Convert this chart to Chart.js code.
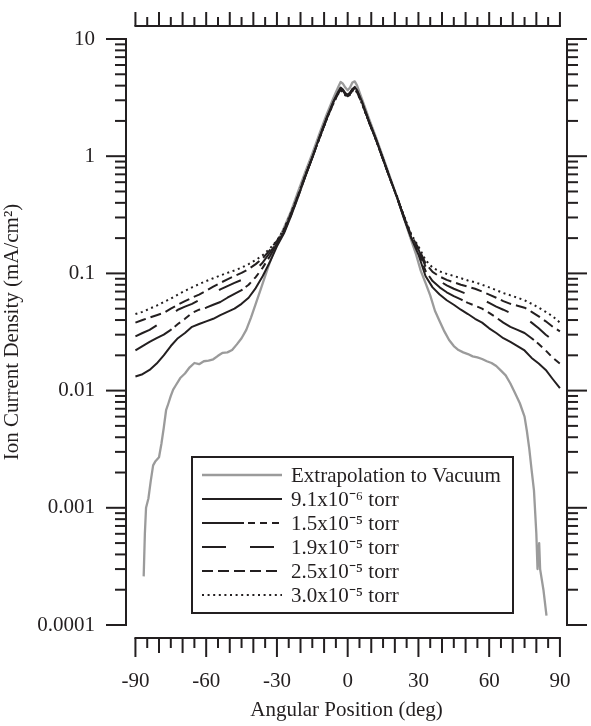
<!DOCTYPE html>
<html><head><meta charset="utf-8">
<script src="https://cdn.jsdelivr.net/npm/chart.js@4.4.1/dist/chart.umd.min.js"></script>
<style>html,body{margin:0;padding:0;background:#fff}canvas{display:block}</style>
</head><body>
<canvas id="c" width="591" height="726"></canvas>
<script>
// ---- data ----
const xTickLabels = [-90, -60, -30, 0, 30, 60, 90];
const yTickLabels = [0.0001, 0.001, 0.01, 0.1, 1, 10];
const seriesLabels = ['Extrapolation to Vacuum', '9.1x10\u207B\u2076 torr', '1.5x10\u207B\u2075 torr', '1.9x10\u207B\u2075 torr', '2.5x10\u207B\u2075 torr', '3.0x10\u207B\u2075 torr'];

const pressureAngles = [-90,-87,-84,-81,-78,-75,-72,-69,-66,-63,-60,-57,-54,-51,-48,-45,-42,-39,-36,-33,-30,
  -27,-24,-21,-18,-15,-12,-9,-6,-4,-3,-2,-1,0,1,2,3,4,6,9,12,15,18,21,24,27,
  30,33,36,39,42,45,48,51,54,57,60,63,66,69,72,75,78,81,84,87,90];

const p91 = [0.0132,0.0138,0.015,0.017,0.02,0.024,0.028,0.031,0.035,0.037,0.039,0.041,0.044,0.047,0.05,0.055,0.062,0.075,0.095,0.125,0.17,
  0.22,0.31,0.45,0.67,0.98,1.45,2.1,2.95,3.55,3.85,3.7,3.45,3.35,3.5,3.75,3.9,3.65,2.95,2.0,1.4,0.95,0.64,0.44,0.29,0.2,
  0.145,0.095,0.076,0.066,0.059,0.054,0.049,0.045,0.041,0.038,0.034,0.031,0.028,0.026,0.024,0.022,0.019,0.017,0.015,0.0125,0.0105];
const p15 = [0.022,0.024,0.026,0.028,0.030,0.033,0.037,0.041,0.046,0.049,0.051,0.054,0.057,0.062,0.067,0.072,0.08,0.093,0.112,0.14,0.18,
  0.225,0.315,0.455,0.67,0.97,1.43,2.08,2.9,3.5,3.8,3.65,3.4,3.3,3.45,3.7,3.85,3.6,2.9,1.98,1.39,0.94,0.64,0.44,0.295,0.2,
  0.155,0.105,0.086,0.076,0.069,0.064,0.06,0.056,0.053,0.05,0.046,0.042,0.038,0.035,0.033,0.031,0.028,0.025,0.022,0.019,0.017];
const p19 = [0.029,0.031,0.033,0.036,0.04,0.044,0.049,0.052,0.055,0.059,0.062,0.067,0.073,0.078,0.083,0.088,0.095,0.107,0.124,0.15,0.185,
  0.23,0.32,0.46,0.68,0.97,1.42,2.06,2.88,3.45,3.75,3.6,3.38,3.28,3.42,3.65,3.8,3.55,2.88,1.97,1.38,0.94,0.64,0.44,0.3,0.205,
  0.16,0.115,0.096,0.086,0.079,0.074,0.07,0.066,0.063,0.06,0.056,0.052,0.049,0.046,0.044,0.042,0.038,0.034,0.03,0.027,0.024];
const p25 = [0.038,0.04,0.042,0.044,0.046,0.05,0.054,0.058,0.062,0.066,0.071,0.077,0.083,0.089,0.095,0.101,0.109,0.12,0.135,0.158,0.19,
  0.235,0.325,0.465,0.68,0.97,1.42,2.05,2.85,3.42,3.7,3.55,3.35,3.25,3.4,3.62,3.75,3.5,2.85,1.96,1.38,0.94,0.64,0.445,0.3,0.21,
  0.165,0.122,0.103,0.094,0.088,0.084,0.08,0.077,0.074,0.07,0.066,0.062,0.058,0.055,0.053,0.051,0.047,0.043,0.039,0.035,0.032];
const p30 = [0.045,0.047,0.05,0.053,0.057,0.061,0.066,0.071,0.076,0.081,0.086,0.091,0.096,0.101,0.106,0.112,0.12,0.13,0.143,0.163,0.19,
  0.24,0.33,0.47,0.69,0.97,1.41,2.04,2.82,3.4,3.65,3.5,3.3,3.2,3.35,3.6,3.72,3.48,2.82,1.95,1.37,0.94,0.645,0.45,0.305,0.215,
  0.17,0.13,0.112,0.104,0.099,0.095,0.091,0.087,0.084,0.08,0.076,0.072,0.068,0.065,0.062,0.059,0.055,0.051,0.047,0.043,0.038];

const vacAngles = [-86.5,-86,-85.5,-84.5,-83.5,-82.5,-81.5,-80,-79,-78,
  -77,-76,-75,-74,-73,-71,-69,-67,-65,-63,
  -61,-59,-57,-55,-53,-51,-49,-47,-45,-43,
  -41,-39,-37,-35,-33,-31,-29,-27,-24,-21,
  -18,-15,-12,-9,-6,-4,-3,-2,-1,0,
  1,2,3,4,6,9,12,15,18,21,
  24,27,29,31,33,35,37,39,41,43,
  45,47,49,51,53,55,57,59,61,63,
  65,67,69,71,73,75,76,77,78,79,
  80,80.5,81.2,81.6,83,84.3];
const vacValues = [0.00026,0.0006,0.001,0.0012,0.0017,0.0023,0.0025,0.0027,0.0035,0.0048,
  0.0068,0.0078,0.009,0.0102,0.011,0.0128,0.014,0.0158,0.0172,0.0168,
  0.0178,0.018,0.0185,0.0198,0.021,0.0212,0.0222,0.0248,0.028,0.033,
  0.042,0.055,0.072,0.095,0.125,0.16,0.2,0.245,0.34,0.5,
  0.73,1.05,1.55,2.25,3.15,3.9,4.3,4.15,3.85,3.65,
  3.85,4.25,4.35,4.0,3.1,2.1,1.45,0.98,0.66,0.44,
  0.29,0.19,0.145,0.105,0.083,0.065,0.048,0.039,0.032,0.027,
  0.024,0.0222,0.0212,0.0205,0.0196,0.0192,0.0186,0.0178,0.0172,0.0162,
  0.0148,0.0135,0.0115,0.0095,0.0078,0.006,0.0045,0.0032,0.0021,0.0014,
  0.0006,0.0003,0.0005,0.0003,0.0002,0.00012];

// ---- styling ----
const INK = '#231f20';
const GREY = '#9b9b9b';
const FONT = 'Liberation Serif, Times New Roman, serif';
const FS = 21;

const pts = (xs, ys) => xs.map((x, i) => ({x: x, y: ys[i]}));
const lineBase = {pointRadius: 0, tension: 0, borderWidth: 2, fill: false, borderCapStyle: 'butt', borderJoinStyle: 'round'};

const datasets = [
  Object.assign({}, lineBase, {label: seriesLabels[0], data: pts(vacAngles, vacValues), borderColor: GREY, borderWidth: 2.3, borderDash: [], order: 10}),
  Object.assign({}, lineBase, {label: seriesLabels[1], data: pts(pressureAngles, p91), borderColor: INK, borderDash: [], order: 1}),
  Object.assign({}, lineBase, {label: seriesLabels[2], data: pts(pressureAngles, p15), borderColor: INK, borderDash: [42, 4, 7, 5, 7, 5, 7, 5], order: 1}),
  Object.assign({}, lineBase, {label: seriesLabels[3], data: pts(pressureAngles, p19), borderColor: INK, borderDash: [24, 24], order: 1}),
  Object.assign({}, lineBase, {label: seriesLabels[4], data: pts(pressureAngles, p25), borderColor: INK, borderDash: [11, 5], order: 1}),
  Object.assign({}, lineBase, {label: seriesLabels[5], data: pts(pressureAngles, p30), borderColor: INK, borderDash: [2, 3.6], order: 1})
];

function seg(ctx, x1, y1, x2, y2) { ctx.beginPath(); ctx.moveTo(x1, y1); ctx.lineTo(x2, y2); ctx.stroke(); }

const igorAxes = {
  id: 'igorAxes',
  afterDraw(chart) {
    const ctx = chart.ctx, xs = chart.scales.x, ys = chart.scales.y, ca = chart.chartArea;
    ctx.save();
    ctx.strokeStyle = INK; ctx.lineWidth = 2; ctx.lineCap = 'butt';
    const yTop = ys.getPixelForValue(yTickLabels[yTickLabels.length - 1]);
    const yBot = ys.getPixelForValue(yTickLabels[0]);
    seg(ctx, ca.left, yTop - 1, ca.left, yBot + 1);
    seg(ctx, ca.right, yTop - 1, ca.right, yBot + 1);
    for (let d = 0; d < yTickLabels.length; d++) {
      for (let m = 1; m <= 9; m++) {
        const v = yTickLabels[d] * m;
        if (v > yTickLabels[yTickLabels.length - 1] * 1.0001) break;
        const y = ys.getPixelForValue(v);
        const len = m === 1 ? 20 : 11;
        seg(ctx, ca.left - len, y, ca.left, y);
        seg(ctx, ca.right, y, ca.right + len, y);
      }
    }
    const a0 = xTickLabels[0], a1 = xTickLabels[xTickLabels.length - 1];
    const x0 = xs.getPixelForValue(a0), x1 = xs.getPixelForValue(a1);
    const by = ca.bottom + 13, ty = ca.top - 13;
    seg(ctx, x0 - 1, by, x1 + 1, by);
    seg(ctx, x0 - 1, ty, x1 + 1, ty);
    for (let a = a0; a <= a1; a += 5) {
      const x = xs.getPixelForValue(a);
      const lb = (a % 30 === 0) ? 19 : (a % 10 === 0 ? 15 : 10);
      seg(ctx, x, by, x, by + lb);
      const lt = (a % 10 === 0) ? 14 : 9;
      seg(ctx, x, ty, x, ty - lt);
    }
    ctx.restore();
  }
};

const boxLegend = {
  id: 'boxLegend',
  afterDraw(chart) {
    const ctx = chart.ctx;
    ctx.save();
    ctx.strokeStyle = INK; ctx.lineWidth = 2;
    ctx.strokeRect(192, 457, 321, 156);
    ctx.font = FS + 'px ' + FONT;
    ctx.fillStyle = INK; ctx.textBaseline = 'middle'; ctx.textAlign = 'left';
    chart.data.datasets.forEach((ds, i) => {
      const y = 475 + i * 24;
      ctx.save();
      ctx.strokeStyle = ds.borderColor; ctx.lineWidth = ds.borderWidth;
      ctx.setLineDash(ds.borderDash || []);
      seg(ctx, 202, y, 282, y);
      ctx.restore();
      ctx.fillText(ds.label, 291, y + 1);
    });
    ctx.restore();
  }
};

new Chart(document.getElementById('c'), {
  type: 'line',
  data: {datasets: datasets},
  options: {
    responsive: false, animation: false, devicePixelRatio: 1,
    layout: {autoPadding: false, padding: {top: 39, right: 24, left: 0, bottom: 0}},
    plugins: {legend: {display: false}, tooltip: {enabled: false}},
    scales: {
      x: {
        type: 'linear', min: -94, max: 93,
        grid: {display: false, drawTicks: false}, border: {display: false},
        afterBuildTicks: s => { s.ticks = xTickLabels.map(v => ({value: v})); },
        afterFit: s => { s.height = 101; s.paddingLeft = 0; s.paddingRight = 0; s.paddingTop = 0; s.paddingBottom = 0; },
        ticks: {color: INK, font: {family: FONT, size: FS}, padding: 44, maxRotation: 0, autoSkip: false, callback: v => String(v)},
        title: {display: true, text: 'Angular Position (deg)', color: INK, font: {family: FONT, size: FS}, padding: {top: 0, bottom: 3}}
      },
      y: {
        type: 'logarithmic', min: 0.0001, max: 10,
        grid: {display: false, drawTicks: false}, border: {display: false},
        afterBuildTicks: s => { s.ticks = yTickLabels.map(v => ({value: v})); },
        afterFit: s => { s.width = 126; s.paddingLeft = 0; s.paddingRight = 0; s.paddingTop = 0; s.paddingBottom = 0; },
        ticks: {color: INK, font: {family: FONT, size: FS}, padding: 31, autoSkip: false, callback: v => String(v)},
        title: {display: true, text: 'Ion Current Density (mA/cm\u00B2)', color: INK, font: {family: FONT, size: FS}, padding: {top: 0, bottom: 0}}
      }
    }
  },
  plugins: [igorAxes, boxLegend]
});
</script>
</body></html>
